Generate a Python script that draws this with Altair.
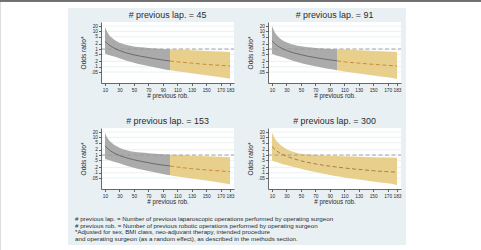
import altair as alt
import pandas as pd

CANVAS_W, CANVAS_H = 481, 250
FONT = "Liberation Sans"

# number of previous robotic operations at which the curves are evaluated
rob = [10, 15, 20, 30, 40, 50, 60, 70, 80, 90, 100, 110, 130, 150, 170, 183]

panel_titles = [
    "# previous lap. = 45",
    "# previous lap. = 91",
    "# previous lap. = 153",
    "# previous lap. = 300",
]

# adjusted odds ratio with 95% confidence limits, one set per panel
or_45 = [2.8, 1.8, 1.3, 0.83, 0.60, 0.47, 0.39, 0.33, 0.28, 0.24, 0.21, 0.19, 0.16, 0.135, 0.12, 0.11]
lo_45 = [0.56, 0.46, 0.40, 0.30, 0.22, 0.17, 0.135, 0.11, 0.09, 0.075, 0.064, 0.055, 0.043, 0.033, 0.025, 0.021]
hi_45 = [17, 7.0, 4.2, 2.3, 1.7, 1.4, 1.25, 1.15, 1.08, 1.02, 0.98, 0.93, 0.85, 0.78, 0.72, 0.69]

or_91 = [2.9, 1.85, 1.32, 0.84, 0.61, 0.48, 0.39, 0.33, 0.28, 0.245, 0.215, 0.19, 0.16, 0.137, 0.12, 0.11]
lo_91 = [0.55, 0.45, 0.39, 0.29, 0.21, 0.165, 0.13, 0.105, 0.088, 0.074, 0.063, 0.054, 0.042, 0.032, 0.025, 0.02]
hi_91 = [20, 7.5, 4.4, 2.4, 1.75, 1.42, 1.26, 1.16, 1.08, 1.02, 0.98, 0.93, 0.85, 0.78, 0.72, 0.69]

or_153 = [3.3, 2.1, 1.5, 0.95, 0.69, 0.54, 0.44, 0.37, 0.31, 0.27, 0.24, 0.21, 0.17, 0.145, 0.125, 0.115]
lo_153 = [0.62, 0.52, 0.45, 0.34, 0.25, 0.19, 0.15, 0.125, 0.103, 0.086, 0.073, 0.062, 0.047, 0.036, 0.027, 0.022]
hi_153 = [18, 7.5, 4.6, 2.6, 1.9, 1.55, 1.38, 1.26, 1.17, 1.1, 1.05, 1.0, 0.92, 0.85, 0.79, 0.76]

or_300 = [3.0, 1.9, 1.36, 0.87, 0.62, 0.47, 0.38, 0.32, 0.27, 0.235, 0.21, 0.185, 0.155, 0.13, 0.115, 0.107]
lo_300 = [0.5, 0.42, 0.36, 0.27, 0.21, 0.17, 0.135, 0.11, 0.09, 0.075, 0.063, 0.054, 0.042, 0.032, 0.025, 0.02]
hi_300 = [19, 7.5, 4.3, 2.2, 1.5, 1.2, 1.07, 1.0, 0.95, 0.91, 0.88, 0.85, 0.8, 0.75, 0.72, 0.70]

estimates = [or_45, or_91, or_153, or_300]
lower = [lo_45, lo_91, lo_153, lo_300]
upper = [hi_45, hi_91, hi_153, hi_300]

# first value of rob that lies outside the observed experience (extrapolated part)
extrapolated_from = [100, 100, 100, 10]

x_ticks = [10, 30, 50, 70, 90, 110, 130, 150, 170, 183]
y_ticks = [20, 10, 5, 2, 1, 0.5, 0.2, 0.1, 0.05]
reference_or = [1]

footnotes = [
    "# previous lap. = Number of previous laparoscopic operations performed by operating surgeon",
    "# previous rob. = Number of previous robotic operations performed by operating surgeon",
    "*Adjusted for sex, BMI class, neo-adjuvant therapy, intended procedure",
    "and operating surgeon (as a random effect), as described in the methods section.",
]

X_DOMAIN = [4.5, 188.5]
Y_DOMAIN = [0.012, 34]

GRAPH_BG = "#e9f0f3"
GRID = "#e6edef"
GRAY_BAND = "#ababab"
GRAY_LINE = "#5a5a5a"
GOLD_BAND = "#e8cf8c"
GOLD_LINE = "#c4862e"
REF_LINE = "#9a9a9a"
TEXT = "#2b2b2b"

one_row = pd.DataFrame({"k": [0]})


def pixel_box(x0, x1, y0, y1, color):
    return alt.Chart(one_row).mark_rect(fill=color, stroke=None).encode(
        x=alt.value(x0), x2=alt.value(x1), y=alt.value(y0), y2=alt.value(y1)
    )


def panel(i):
    col, row = i % 2, i // 2
    x0, x1 = 101 + 167 * col, 234 + 167 * col
    y0, y1 = 22 + 106 * row, 83 + 106 * row

    df = pd.DataFrame({"rob": rob, "est": estimates[i], "lo": lower[i], "hi": upper[i]})
    cut = extrapolated_from[i]
    observed = df[df["rob"] <= cut]
    extrap = df[df["rob"] >= cut]

    xsc = alt.Scale(domain=X_DOMAIN, range=[x0, x1], nice=False, zero=False)
    ysc = alt.Scale(type="log", domain=Y_DOMAIN, range=[y1, y0], nice=False)

    def X(axis=None):
        return alt.X("rob:Q", scale=xsc, axis=axis)

    def Y(field, axis=None):
        return alt.Y(f"{field}:Q", scale=ysc, axis=axis)

    layers = [pixel_box(x0, x1, y0, y1, "white")]

    # horizontal grid lines
    layers.append(
        alt.Chart(pd.DataFrame({"v": y_ticks})).mark_rule(color=GRID, strokeWidth=0.8).encode(
            x=alt.value(x0), x2=alt.value(x1), y=Y("v")
        )
    )

    if len(observed) > 1:
        layers.append(
            alt.Chart(observed).mark_area(color=GRAY_BAND, opacity=1, interpolate="monotone").encode(
                x=X(), y=Y("lo"), y2="hi:Q"
            )
        )
    layers.append(
        alt.Chart(extrap).mark_area(color=GOLD_BAND, opacity=1, interpolate="monotone").encode(
            x=X(), y=Y("lo"), y2="hi:Q"
        )
    )

    # reference line at OR = 1
    layers.append(
        alt.Chart(pd.DataFrame({"v": reference_or})).mark_rule(
            color=REF_LINE, strokeWidth=0.9, strokeDash=[4, 2.5]
        ).encode(x=alt.value(x0), x2=alt.value(x1), y=Y("v"))
    )

    if len(observed) > 1:
        layers.append(
            alt.Chart(observed).mark_line(color=GRAY_LINE, strokeWidth=0.8, interpolate="monotone").encode(
                x=X(), y=Y("est")
            )
        )
    line_color = GOLD_LINE if len(observed) > 1 else "#a3734a"
    layers.append(
        alt.Chart(extrap).mark_line(
            color=line_color, strokeWidth=0.9, strokeDash=[4, 2.5], interpolate="monotone"
        ).encode(x=X(), y=Y("est"))
    )

    # axes carried by an invisible layer, drawn above the panel backgrounds
    x_axis = alt.Axis(
        orient="bottom", offset=y1 - CANVAS_H, values=x_ticks, format="d", zindex=2,
        title="# previous rob.", titleFontSize=6.3, titleFontWeight="normal", titleColor=TEXT,
        titlePadding=1, labelFontSize=4.8, labelColor=TEXT, labelPadding=1.5,
        labelOverlap=False, labelFlush=False, tickSize=2.5, tickColor="#444",
        domainColor="#444", domainWidth=0.8, tickWidth=0.8, grid=False,
    )
    y_axis = alt.Axis(
        orient="left", offset=-x0, values=y_ticks, zindex=2,
        labelExpr="datum.value >= 1 ? format(datum.value, 'd') : replace(format(datum.value, ''), '0.', '.')",
        title="Odds ratio*", titleFontSize=6.6, titleFontWeight="normal", titleColor=TEXT,
        titlePadding=4, labelFontSize=4.8, labelColor=TEXT, labelPadding=1,
        labelOverlap=False, labelFlush=False, tickSize=2.5, tickColor="#444",
        domainColor="#444", domainWidth=0.8, tickWidth=0.8, grid=False,
    )
    layers.append(
        alt.Chart(df).mark_point(opacity=0).encode(x=X(x_axis), y=Y("est", y_axis))
    )

    # panel heading
    layers.append(
        alt.Chart(one_row).mark_text(
            text=panel_titles[i], fontSize=8.9, color=TEXT, align="center", baseline="middle", font=FONT
        ).encode(x=alt.value((x0 + x1) / 2), y=alt.value(15 + 106 * row))
    )
    return layers


all_layers = [
    # light graph region behind the four panels
    pixel_box(68, 406, 8, 245, GRAPH_BG),
    # dark rule along the top edge
    alt.Chart(one_row).mark_rule(color="#4a4a4a", strokeWidth=1.4).encode(
        x=alt.value(0), x2=alt.value(CANVAS_W), y=alt.value(1)
    ),
]
for i in range(4):
    all_layers.extend(panel(i))

for j, line in enumerate(footnotes):
    all_layers.append(
        alt.Chart(one_row).mark_text(
            text=line, fontSize=6.2, color=TEXT, align="left", baseline="middle", font=FONT
        ).encode(x=alt.value(75), y=alt.value(219 + 6.6 * j))
    )

chart = (
    alt.layer(*all_layers)
    .resolve_scale(x="independent", y="independent")
    .properties(width=CANVAS_W, height=CANVAS_H, autosize="none", padding=0, background="white")
    .configure_view(stroke=None)
    .configure(font=FONT)
)

chart.save("out.html", embed_options={"renderer": "svg", "actions": False})
